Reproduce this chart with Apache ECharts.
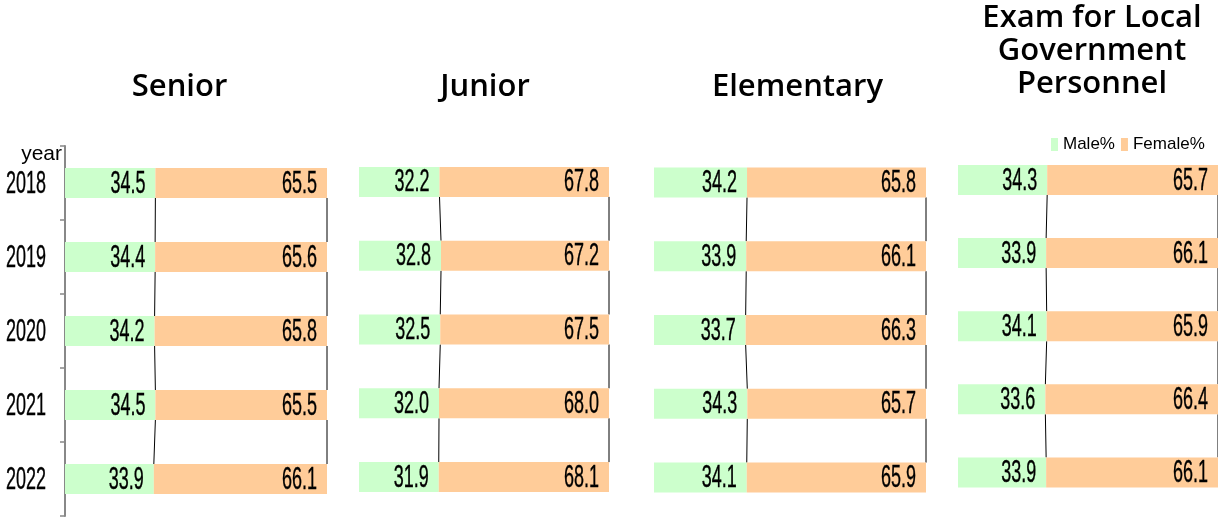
<!DOCTYPE html>
<html>
<head>
<meta charset="utf-8">
<script src="https://cdn.jsdelivr.net/npm/echarts@6/dist/echarts.min.js"></script>
<style>html,body{margin:0;padding:0;background:#fff}#c{width:1218px;height:517px}</style>
</head>
<body>
<div id="c"></div>
<script>
const years = ['2018', '2019', '2020', '2021', '2022'];
const panelTitles = ['Senior', 'Junior', 'Elementary', 'Exam for Local\nGovernment\nPersonnel'];
const seniorMale = [34.5, 34.4, 34.2, 34.5, 33.9];
const seniorFemale = [65.5, 65.6, 65.8, 65.5, 66.1];
const juniorMale = [32.2, 32.8, 32.5, 32.0, 31.9];
const juniorFemale = [67.8, 67.2, 67.5, 68.0, 68.1];
const elementaryMale = [34.2, 33.9, 33.7, 34.3, 34.1];
const elementaryFemale = [65.8, 66.1, 66.3, 65.7, 65.9];
const examMale = [34.3, 33.9, 34.1, 33.6, 33.9];
const examFemale = [65.7, 66.1, 65.9, 66.4, 66.1];

const panels = [
  {male: seniorMale, female: seniorFemale},
  {male: juniorMale, female: juniorFemale},
  {male: elementaryMale, female: elementaryFemale},
  {male: examMale, female: examFemale}
];
const grids = [
  {left: 65, width: 262, top: 146, height: 370},
  {left: 359, width: 250, top: 145, height: 369},
  {left: 654, width: 272, top: 145.5, height: 369},
  {left: 958, width: 260, top: 143.4, height: 365.6}
];
const titleX = [179.5, 485, 797.5, 1092];
const titleY = [71, 71, 71, 2];
const BAR_H = 30;
const LBL_FONT = '31px "Liberation Sans", Arial, sans-serif';
const LBL_SX = 0.58;
const MALE_C = '#CCFFCC', FEMALE_C = '#FFCC99';

function txt(x, y, s) {
  return {type: 'text', x: x, y: y, scaleX: LBL_SX, scaleY: 1,
    style: {text: s, x: 0, y: 0, align: 'right', verticalAlign: 'middle', font: LBL_FONT, fill: '#000',
      stroke: '#000', lineWidth: 0.4}};
}

const chart = echarts.init(document.getElementById('c'), null, {renderer: 'canvas'});
const option = {
  backgroundColor: '#fff',
  animation: false,
  title: panelTitles.map((t, i) => ({
    text: t, left: titleX[i], top: titleY[i], textAlign: 'center', padding: 0,
    textStyle: {fontFamily: '"Open Sans","Noto Sans",sans-serif', fontSize: 31, fontWeight: 600, color: '#000', lineHeight: 33}
  })),
  legend: {
    data: ['Male%', 'Female%'], left: 1051, top: 136, itemWidth: 7, itemHeight: 13, itemGap: 6, padding: 0,
    icon: 'rect',
    textStyle: {fontFamily: '"Liberation Sans",sans-serif', fontSize: 17, color: '#000'}
  },
  grid: grids.map(g => Object.assign({containLabel: false, outerBoundsMode: 'none'}, g)),
  xAxis: grids.map((g, i) => ({type: 'value', gridIndex: i, min: 0, max: 100, show: false})),
  yAxis: grids.map((g, i) => ({
    type: 'category', gridIndex: i, data: years, inverse: true, show: i === 0,
    name: 'year', nameLocation: 'start', nameGap: 0,
    nameTextStyle: {fontFamily: '"Liberation Sans",sans-serif', fontSize: 21, color: '#000', align: 'right', verticalAlign: 'top', padding: [-2, 3, 0, 0]},
    axisLine: {show: true, lineStyle: {color: '#888', width: 2}},
    axisTick: {show: true, length: 5, lineStyle: {color: '#888', width: 1.5}},
    axisLabel: {show: false}
  })),
  series: []
};
panels.forEach((p, i) => {
  option.series.push({name: 'Male%', type: 'bar', stack: 's' + i, xAxisIndex: i, yAxisIndex: i, data: p.male,
    barWidth: BAR_H, itemStyle: {color: MALE_C}});
  option.series.push({name: 'Female%', type: 'bar', stack: 's' + i, xAxisIndex: i, yAxisIndex: i, data: p.female,
    barWidth: BAR_H, itemStyle: {color: FEMALE_C}});
  const links = [];
  for (let k = 0; k < p.male.length - 1; k++) links.push([p.male[k], p.male[k + 1], k]);
  option.series.push({
    type: 'custom', xAxisIndex: i, yAxisIndex: i, data: links, silent: true, clip: false, z: 1,
    renderItem: function (params, api) {
      const k = api.value(2);
      const a = api.coord([api.value(0), k]);
      const b = api.coord([api.value(1), k + 1]);
      const r1 = api.coord([100, k]);
      const r2 = api.coord([100, k + 1]);
      const st = {stroke: '#000', lineWidth: 1};
      return {type: 'group', children: [
        {type: 'line', shape: {x1: a[0], y1: a[1] + BAR_H / 2, x2: b[0], y2: b[1] - BAR_H / 2}, style: st},
        {type: 'line', shape: {x1: r1[0], y1: r1[1] + BAR_H / 2, x2: r2[0], y2: r2[1] - BAR_H / 2}, style: st}
      ]};
    }
  });
  // value labels (condensed text)
  const lblData = p.male.map((m, k) => [m, p.female[k], k]);
  option.series.push({
    type: 'custom', xAxisIndex: i, yAxisIndex: i, data: lblData, silent: true, clip: false, z: 5,
    renderItem: function (params, api) {
      const k = api.value(2);
      const m = api.coord([api.value(0), k]);
      const e = api.coord([api.value(0) + api.value(1), k]);
      return {type: 'group', children: [
        txt(m[0] - 10, m[1] + 1, api.value(0).toFixed(1)),
        txt(e[0] - 10, e[1] + 1, api.value(1).toFixed(1))
      ]};
    }
  });
});
// year category labels for the first panel (condensed text)
option.series.push({
  type: 'custom', xAxisIndex: 0, yAxisIndex: 0, data: years.map((y, k) => [0, k]), silent: true, clip: false, z: 5,
  renderItem: function (params, api) {
    const k = api.value(1);
    const c = api.coord([0, k]);
    return txt(c[0] - 19, c[1] + 1, years[k]);
  }
});
chart.setOption(option);
</script>
</body>
</html>
